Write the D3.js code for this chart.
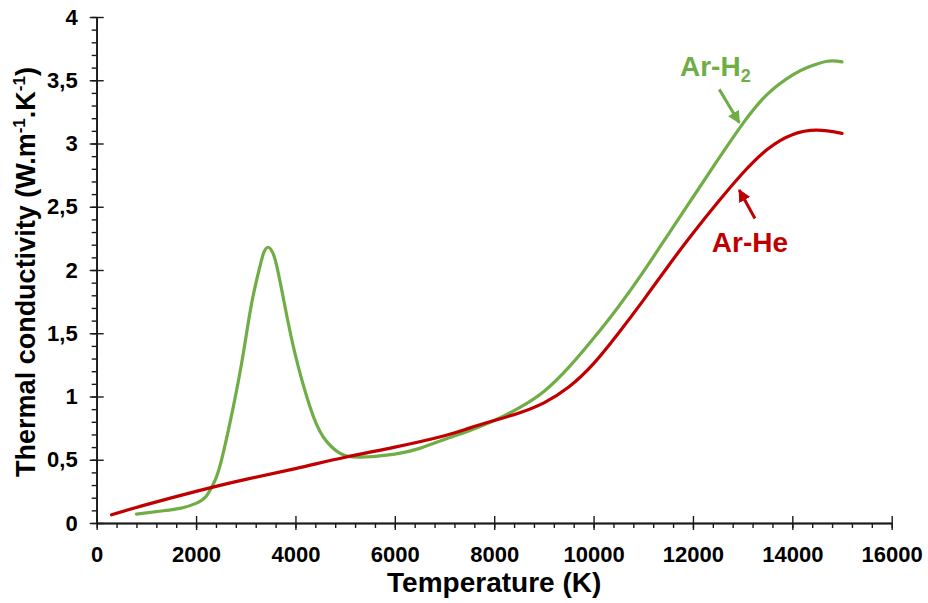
<!DOCTYPE html>
<html>
<head>
<meta charset="utf-8">
<script src="https://cdn.jsdelivr.net/npm/d3@7"></script>
<style>
  html, body { margin: 0; padding: 0; background: #fff; }
  svg { display: block; }
  text { font-family: "Liberation Sans", Arial, sans-serif; font-weight: bold; }
</style>
</head>
<body>
<svg id="chart" width="928" height="603"></svg>
<script>
// ---- data ----
const arHeT = [300, 1000, 2000, 3000, 4000, 5000, 6000, 7000, 7500, 8000, 8500, 9000, 9500, 10000, 10500, 11000, 11500, 12000, 12500, 13000, 13500, 14000, 14500, 15000];
const arHeK = [0.065, 0.145, 0.25, 0.345, 0.43, 0.52, 0.60, 0.69, 0.75, 0.81, 0.87, 0.95, 1.075, 1.26, 1.50, 1.76, 2.03, 2.29, 2.535, 2.765, 2.955, 3.07, 3.105, 3.08];

const arH2T = [800, 1300, 1700, 2000, 2200, 2350, 2500, 2750, 2950, 3120, 3280, 3360, 3450, 3545, 3630, 3780, 3990, 4290, 4560, 4900, 5300, 6000, 6500, 7000, 7500, 8000, 8500, 9000, 9500, 10000, 10500, 11000, 11500, 12000, 12500, 13000, 13500, 14000, 14300, 14700, 15000];
const arH2K = [0.07, 0.095, 0.118, 0.155, 0.21, 0.31, 0.48, 0.92, 1.34, 1.74, 2.02, 2.135, 2.18, 2.135, 2.02, 1.73, 1.34, 0.92, 0.68, 0.55, 0.52, 0.545, 0.59, 0.66, 0.73, 0.81, 0.91, 1.04, 1.23, 1.46, 1.71, 1.985, 2.28, 2.575, 2.87, 3.155, 3.39, 3.54, 3.60, 3.65, 3.645];

const xTicks = [0, 2000, 4000, 6000, 8000, 10000, 12000, 14000, 16000];
const yTicks = [0, 0.5, 1, 1.5, 2, 2.5, 3, 3.5, 4];
const yTickLabels = ["0", "0,5", "1", "1,5", "2", "2,5", "3", "3,5", "4"];

// annotation anchor points, in data units
const labelH2 = [11739, 3.533];
const labelHe = [12380, 2.142];
const arrowH2 = [[12530, 3.428], [12932, 3.164]];
const arrowHe = [[13248, 2.407], [12932, 2.632]];

const GREEN = "#70AD47";
const RED = "#C00000";

// ---- scales ----
const svg = d3.select("#chart");
const x = d3.scaleLinear().domain([0, 16000]).range([96.7, 891.7]);
const y = d3.scaleLinear().domain([0, 4]).range([523, 17]);

// ---- axes ----
const axisColor = "#1a1a1a";
function styleAxis(g) {
  g.selectAll("path.domain").attr("stroke", axisColor).attr("stroke-width", 1.6);
  g.selectAll(".tick line").attr("stroke", axisColor).attr("stroke-width", 1.4);
}
// x minor ticks
const xMinor = d3.range(0, 16001, 400);
svg.append("g").attr("transform", `translate(0,${y(0)})`)
  .call(d3.axisBottom(x).tickValues(xMinor).tickSize(5).tickSizeOuter(0).tickFormat(""))
  .call(styleAxis);
// x major outward with labels
const gx = svg.append("g").attr("transform", `translate(0,${y(0)})`)
  .call(d3.axisBottom(x).tickValues(xTicks).tickSize(7).tickSizeOuter(0).tickPadding(16).tickFormat(d3.format("d")))
  .call(styleAxis);
gx.selectAll(".tick text").attr("font-size", 22).attr("fill", "#000")
  .attr("font-family", "'Liberation Sans', Arial, sans-serif").attr("font-weight", "bold");
// x major inward
svg.append("g").attr("transform", `translate(0,${y(0)})`)
  .call(d3.axisBottom(x).tickValues(xTicks).tickSize(-7).tickSizeOuter(0).tickFormat(""))
  .call(styleAxis);

// y minor ticks
const yMinor = d3.range(0, 41).map(d => d / 10);
svg.append("g").attr("transform", `translate(${x(0)},0)`)
  .call(d3.axisLeft(y).tickValues(yMinor).tickSize(5).tickSizeOuter(0).tickFormat(""))
  .call(styleAxis);
const gy = svg.append("g").attr("transform", `translate(${x(0)},0)`)
  .call(d3.axisLeft(y).tickValues(yTicks).tickSize(7).tickSizeOuter(0).tickPadding(12)
    .tickFormat((d, i) => yTickLabels[i]))
  .call(styleAxis);
gy.selectAll(".tick text").attr("font-size", 22).attr("fill", "#000")
  .attr("font-family", "'Liberation Sans', Arial, sans-serif").attr("font-weight", "bold");
svg.append("g").attr("transform", `translate(${x(0)},0)`)
  .call(d3.axisLeft(y).tickValues(yTicks).tickSize(-7).tickSizeOuter(0).tickFormat(""))
  .call(styleAxis);

// axis titles
svg.append("text")
  .attr("x", (x(0) + x(16000)) / 2 + 0).attr("y", 592)
  .attr("text-anchor", "middle").attr("font-size", 28).attr("fill", "#000")
  .text("Temperature (K)");

const yt = svg.append("text")
  .attr("transform", `translate(35,${(y(0) + y(4)) / 2 + 2}) rotate(-90)`)
  .attr("text-anchor", "middle").attr("font-size", 27).attr("fill", "#000");
yt.append("tspan").text("Thermal conductivity (W.m");
yt.append("tspan").attr("font-size", 17).attr("dy", -10).text("-1");
yt.append("tspan").attr("dy", 10).text(".K");
yt.append("tspan").attr("font-size", 17).attr("dy", -10).text("-1");
yt.append("tspan").attr("dy", 10).text(")");

// ---- lines ----
const line = d3.line().x(d => x(d[0])).y(d => y(d[1])).curve(d3.curveNatural);
const h2 = arH2T.map((t, i) => [t, arH2K[i]]);
const he = arHeT.map((t, i) => [t, arHeK[i]]);

svg.append("path").datum(h2).attr("d", line)
  .attr("fill", "none").attr("stroke", GREEN).attr("stroke-width", 3.2).attr("stroke-linecap", "round");
svg.append("path").datum(he).attr("d", line)
  .attr("fill", "none").attr("stroke", RED).attr("stroke-width", 3.2).attr("stroke-linecap", "round");

// ---- annotations ----
const defs = svg.append("defs");
function marker(id, color) {
  defs.append("marker").attr("id", id).attr("viewBox", "0 0 10 10")
    .attr("refX", 9).attr("refY", 5).attr("markerWidth", 4.2).attr("markerHeight", 4.2)
    .attr("markerUnits", "strokeWidth").attr("orient", "auto")
    .append("path").attr("d", "M0,0 L10,5 L0,10 Z").attr("fill", color);
}
marker("ah-g", GREEN);
marker("ah-r", RED);

svg.append("line")
  .attr("x1", x(arrowH2[0][0])).attr("y1", y(arrowH2[0][1]))
  .attr("x2", x(arrowH2[1][0])).attr("y2", y(arrowH2[1][1]))
  .attr("stroke", GREEN).attr("stroke-width", 3).attr("marker-end", "url(#ah-g)");
svg.append("line")
  .attr("x1", x(arrowHe[0][0])).attr("y1", y(arrowHe[0][1]))
  .attr("x2", x(arrowHe[1][0])).attr("y2", y(arrowHe[1][1]))
  .attr("stroke", RED).attr("stroke-width", 3).attr("marker-end", "url(#ah-r)");

const tH2 = svg.append("text").attr("x", x(labelH2[0])).attr("y", y(labelH2[1]))
  .attr("font-size", 28).attr("fill", GREEN);
tH2.append("tspan").text("Ar-H");
tH2.append("tspan").attr("font-size", 18).attr("dy", 6).text("2");

svg.append("text").attr("x", x(labelHe[0])).attr("y", y(labelHe[1]))
  .attr("font-size", 28).attr("fill", RED).text("Ar-He");
</script>
</body>
</html>
